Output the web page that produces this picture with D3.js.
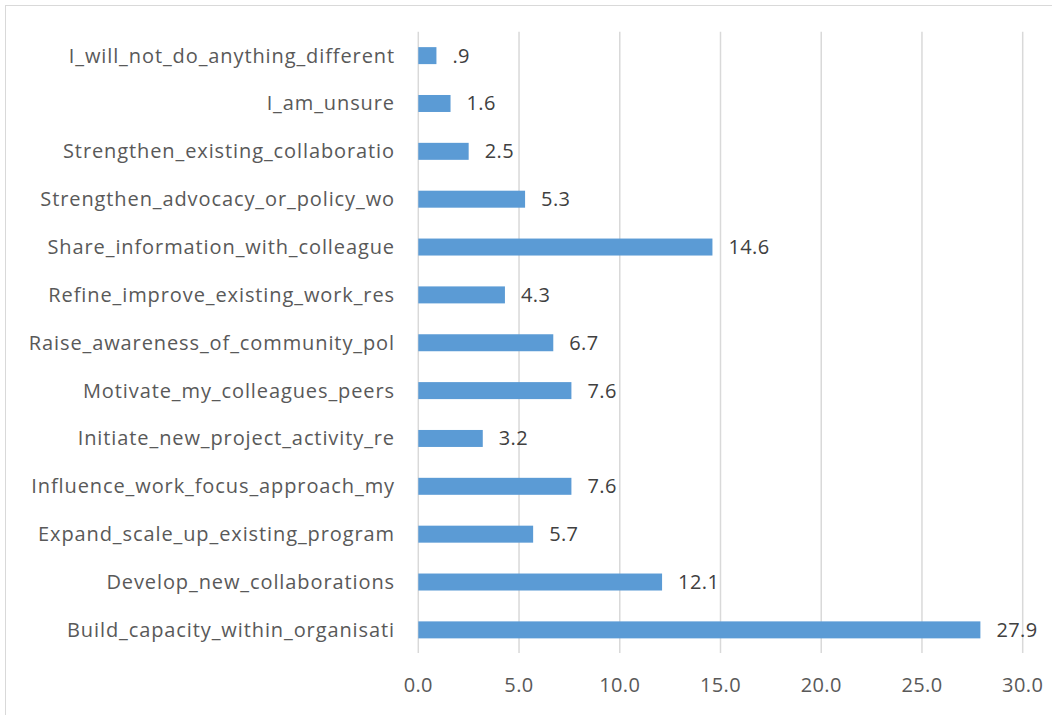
<!DOCTYPE html>
<html>
<head>
<meta charset="utf-8">
<script src="https://cdn.jsdelivr.net/npm/d3@7/dist/d3.min.js"></script>
<style>
  body { margin: 0; background: #fff; }
  svg text { font-family: "Open Sans", Lato, sans-serif; fill: #595959; }
</style>
</head>
<body>
<div class="g-chart-container"></div>
<script>
// data, top to bottom as drawn
var categories = [
  "I_will_not_do_anything_different",
  "I_am_unsure",
  "Strengthen_existing_collaboratio",
  "Strengthen_advocacy_or_policy_wo",
  "Share_information_with_colleague",
  "Refine_improve_existing_work_res",
  "Raise_awareness_of_community_pol",
  "Motivate_my_colleagues_peers",
  "Initiate_new_project_activity_re",
  "Influence_work_focus_approach_my",
  "Expand_scale_up_existing_program",
  "Develop_new_collaborations",
  "Build_capacity_within_organisati"
];
var values = [0.9, 1.6, 2.5, 5.3, 14.6, 4.3, 6.7, 7.6, 3.2, 7.6, 5.7, 12.1, 27.9];
var valueLabels = [".9", "1.6", "2.5", "5.3", "14.6", "4.3", "6.7", "7.6", "3.2", "7.6", "5.7", "12.1", "27.9"];
var xTicks = [0, 5, 10, 15, 20, 25, 30];

var width = 1052;
var height = 715;
var margin = { top: 31.7, left: 418.3, right: 1052 - 1022.7, bottom: 715 - 653.8 };
var fontSize = "20px";

var svg = d3.select(".g-chart-container")
  .append("svg")
  .attr("width", width)
  .attr("height", height);

// chart frame
svg.append("rect")
  .attr("x", 5.5)
  .attr("y", 5.5)
  .attr("width", width + 20)
  .attr("height", height + 20)
  .style("fill", "none")
  .style("stroke", "#d9d9d9");

var x = d3.scaleLinear()
  .domain([0, 30])
  .range([margin.left, width - margin.right]);

var y = d3.scaleBand()
  .domain(categories)
  .range([margin.top, height - margin.bottom])
  .paddingInner(0.645)
  .paddingOuter(0.3225);

// gridlines
svg.append("g")
  .selectAll("line")
  .data(xTicks)
  .enter()
  .append("line")
  .attr("x1", function(d){ return x(d); })
  .attr("x2", function(d){ return x(d); })
  .attr("y1", margin.top)
  .attr("y2", 653)
  .style("stroke", "#d9d9d9")
  .style("stroke-width", 1.5);

// x tick labels
svg.append("g")
  .selectAll("text")
  .data(xTicks)
  .enter()
  .append("text")
  .attr("x", function(d){ return x(d); })
  .attr("y", 685)
  .attr("dy", "0.35em")
  .attr("text-anchor", "middle")
  .style("font-size", fontSize)
  .style("letter-spacing", "0.4px")
  .text(function(d){ return d3.format(".1f")(d); });

// bars
svg.append("g")
  .selectAll("rect")
  .data(values)
  .enter()
  .append("rect")
  .attr("x", x(0))
  .attr("y", function(d, i){ return y(categories[i]); })
  .attr("width", function(d){ return x(d) - x(0); })
  .attr("height", y.bandwidth())
  .style("fill", "#5b9bd5");

// category labels
svg.append("g")
  .selectAll("text")
  .data(categories)
  .enter()
  .append("text")
  .attr("x", 395)
  .attr("y", function(d){ return y(d) + y.bandwidth() / 2; })
  .attr("dy", "0.35em")
  .attr("text-anchor", "end")
  .style("font-size", fontSize)
  .style("letter-spacing", "0.9px")
  .text(function(d){ return d; });

// value labels
svg.append("g")
  .selectAll("text")
  .data(values)
  .enter()
  .append("text")
  .attr("x", function(d){ return x(d) + 16; })
  .attr("y", function(d, i){ return y(categories[i]) + y.bandwidth() / 2; })
  .attr("dy", "0.35em")
  .style("font-size", fontSize)
  .style("letter-spacing", "0.4px")
  .style("fill", "#404040")
  .text(function(d, i){ return valueLabels[i]; });
</script>
</body>
</html>
